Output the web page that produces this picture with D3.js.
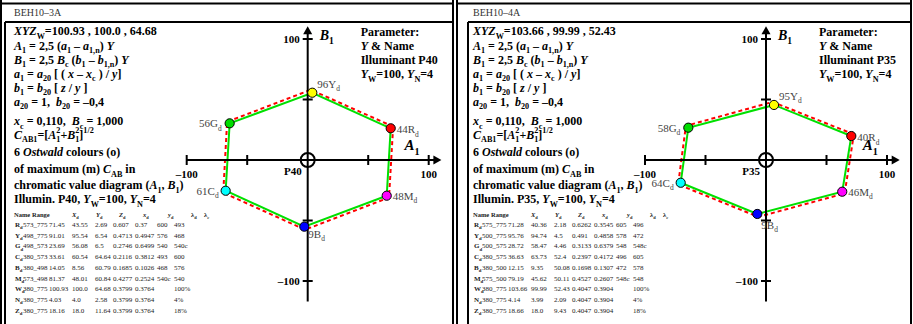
<!DOCTYPE html>
<meta charset="utf-8">
<style>
  body { margin: 0; background: #fff; }
  svg { display: block; font-family: "Liberation Serif", "Times New Roman", serif; }
  text { white-space: pre; }
</style>
<script src="https://d3js.org/d3.v7.min.js"></script>
<div id="chart"></div>
<script>

// ---- data ----
var colourNames = ["R", "Y", "G", "C", "B", "M"];
var panelIds = ["BEH10\u20133A", "BEH10\u20134A"];
var illuminants = ["P40", "P35"];
var whiteXYZ = ["100.93 , 100.0 , 64.68", "103.66 , 99.99 , 52.43"];

// (A1, B1) of the 6 Ostwald colours (green line) and the maximum colours (red dashes)
var ostwaldP40 = [[68.6, 26.2], [3.8, 55.6], [-64.5, 30.3], [-67.8, -25.4], [-2.8, -55.1], [65.3, -29.5]];
var maximumP40 = [[70.6, 27.6], [2.6, 58.0], [-66.6, 31.6], [-69.8, -27.0], [-2.2, -57.6], [67.2, -31.0]];
var ostwaldP35 = [[70.5, 19.8], [6.6, 45.5], [-64.2, 26.7], [-70.5, -18.8], [-7.2, -44.6], [63.0, -26.2]];
var maximumP35 = [[72.6, 21.2], [5.4, 48.0], [-66.2, 28.2], [-72.6, -20.2], [-6.4, -47.0], [65.0, -27.6]];

// table rows: name, range, Xd, Yd, Zd, xd, yd, lambda_d, lambda_c
var tableP40 = [
  ["R", "573_775", "71.45", "43.55", "2.69", "0.607", "0.37", "600", "493"],
  ["Y", "498_775", "91.01", "95.54", "6.54", "0.4713", "0.4947", "576", "468"],
  ["G", "498_573", "23.69", "56.08", "6.5", "0.2746", "0.6499", "540", "540c"],
  ["C", "380_573", "33.61", "60.54", "64.64", "0.2116", "0.3812", "493", "600"],
  ["B", "380_498", "14.05", "8.56", "60.79", "0.1685", "0.1026", "468", "576"],
  ["M", "573_498", "81.37", "48.01", "60.84", "0.4277", "0.2524", "540c", "540"],
  ["W", "380_775", "100.93", "100.0", "64.68", "0.3799", "0.3764", "", "100%"],
  ["N", "380_775", "4.03", "4.0", "2.58", "0.3799", "0.3764", "", "4%"],
  ["Z", "380_775", "18.16", "18.0", "11.64", "0.3799", "0.3764", "", "18%"]
];
var tableP35 = [
  ["R", "575_775", "71.28", "40.36", "2.18", "0.6262", "0.3545", "605", "496"],
  ["Y", "500_775", "95.76", "94.74", "4.5", "0.491", "0.4858", "578", "472"],
  ["G", "500_575", "28.72", "58.47", "4.46", "0.3133", "0.6379", "548", "548c"],
  ["C", "380_575", "36.63", "63.73", "52.4", "0.2397", "0.4172", "496", "605"],
  ["B", "380_500", "12.15", "9.35", "50.08", "0.1698", "0.1307", "472", "578"],
  ["M", "575_500", "79.19", "45.62", "50.11", "0.4527", "0.2607", "548c", "548"],
  ["W", "380_775", "103.66", "99.99", "52.43", "0.4047", "0.3904", "", "100%"],
  ["N", "380_775", "4.14", "3.99", "2.09", "0.4047", "0.3904", "", "4%"],
  ["Z", "380_775", "18.66", "18.0", "9.43", "0.4047", "0.3904", "", "18%"]
];
var axisTicks = [-100, -50, 50, 100];
var labelledTicks = [-100, 100];

// ---- drawing ----
var W = 913, H = 324;
var svg = d3.select("#chart").append("svg").attr("width", W).attr("height", H);

var fills = {R: "#ff0000", Y: "#ffff00", G: "#00dd00", C: "#00ffff", B: "#0000ff", M: "#ff00ff"};

// rich text: segments [text, flags]; i italic, s subscript, p superscript, k superscript stacked on previous subscript
function rich(sel, segs, size) {
  var shift = 0, prev = null;
  segs.forEach(function(s) {
    var f = s[1] || "";
    var sub = f.indexOf("s") >= 0, sup = f.indexOf("p") >= 0 || f.indexOf("k") >= 0;
    var target = sub ? size * 0.32 : (sup ? -size * 0.42 : 0);
    var t = sel.append("tspan").text(s[0]).attr("dy", target - shift);
    shift = target;
    if (sub || sup) t.attr("font-size", size * 0.68);
    if (f.indexOf("i") >= 0) t.attr("font-style", "italic");
    if (f.indexOf("k") >= 0 && prev) t.attr("dx", -prev.node().getComputedTextLength());
    prev = t;
  });
  if (shift) sel.append("tspan").text("").attr("dy", -shift);
}

function formulaLines(xyz, ill) {
  return [
    [["XYZ", "i"], ["W", "s"], ["=" + xyz]],
    [["A", "i"], ["1", "s"], [" = 2,5 ("], ["a", "i"], ["1", "s"], [" \u2013 "], ["a", "i"], ["1,n", "s"], [") "], ["Y", "i"]],
    [["B", "i"], ["1", "s"], [" = 2,5 "], ["B", "i"], ["c", "s"], [" ("], ["b", "i"], ["1", "s"], [" \u2013 "], ["b", "i"], ["1,n", "s"], [") "], ["Y", "i"]],
    [["a", "i"], ["1", "s"], [" = "], ["a", "i"], ["20", "s"], [" [ ( "], ["x", "i"], [" \u2013 "], ["x", "i"], ["c", "s"], [" ) / "], ["y", "i"], ["]"]],
    [["b", "i"], ["1", "s"], [" = "], ["b", "i"], ["20", "s"], [" [ "], ["z", "i"], [" / "], ["y", "i"], [" ]"]],
    [["a", "i"], ["20", "s"], [" = 1,  "], ["b", "i"], ["20", "s"], [" = \u20130,4"]],
    [["x", "i"], ["c", "s"], [" = 0,110,  "], ["B", "i"], ["c", "s"], [" = 1,000"]],
    [["C", "i"], ["AB1", "s"], ["=["], ["A", "i"], ["1", "s"], ["2", "k"], ["+"], ["B", "i"], ["1", "s"], ["2", "k"], ["]"], ["1/2", "p"]],
    [["6 "], ["Ostwald", "i"], [" colours (o)"]],
    [["of maximum (m) "], ["C", "i"], ["AB", "s"], [" in"]],
    [["chromatic value diagram ("], ["A", "i"], ["1", "s"], [", "], ["B", "i"], ["1", "s"], [")"]],
    [["Illumin. " + ill + ", "], ["Y", "i"], ["W", "s"], ["=100, "], ["Y", "i"], ["N", "s"], ["=4"]]
  ];
}
var lineY = [35, 49.5, 63.5, 77.5, 91.5, 105.5, 125, 138.5, 156, 173, 189, 203];

var labelOffset = {R: [6, 5, "start"], Y: [5, -5, "start"], G: [-8, 4, "end"], C: [-7, 4, "end"], B: [4, 11, "start"], M: [6, 4, "start"]};

function drawPanel(p) {
  var g = svg.append("g");
  var x0 = p.x0;

  // frame
  var fr = g.append("g").attr("stroke", "#000").attr("stroke-width", 2).attr("fill", "none");
  fr.append("line").attr("x1", x0).attr("x2", x0 + p.w).attr("y1", 3.5).attr("y2", 3.5);
  fr.append("line").attr("x1", x0 + 1).attr("x2", x0 + 1).attr("y1", 0).attr("y2", H);
  fr.append("line").attr("x1", x0 + p.inner).attr("x2", x0 + p.inner).attr("y1", 22).attr("y2", H);
  fr.append("line").attr("x1", x0 + p.inner).attr("x2", x0 + p.w).attr("y1", 22).attr("y2", 22);
  fr.append("line").attr("x1", x0 + p.w).attr("x2", x0 + p.w).attr("y1", 0).attr("y2", H);

  g.append("text").attr("x", x0 + p.tx).attr("y", 16).attr("font-size", 10).attr("fill", "#333").text(p.id);

  // formula block
  formulaLines(p.xyz, p.ill).forEach(function(segs, i) {
    var t = g.append("text").attr("x", x0 + p.tx).attr("y", lineY[i])
      .attr("font-size", 12).attr("font-weight", "bold");
    rich(t, segs, 12);
  });

  // table
  var hdr = [[["Name"]], [["Range"]], [["X", "i"], ["d", "s"]], [["Y", "i"], ["d", "s"]], [["Z", "i"], ["d", "s"]],
             [["x", "i"], ["d", "s"]], [["y", "i"], ["d", "s"]], [["\u03bb"], ["d", "s"]], [["\u03bb"], ["c", "s"]]];
  var hdrX = [0, 18, 58, 82, 105, 129, 154, 177, 190];
  hdr.forEach(function(segs, i) {
    var t = g.append("text").attr("x", x0 + p.tx + hdrX[i]).attr("y", 217)
      .attr("font-size", 6.5).attr("font-weight", "bold").attr("fill", "#222");
    rich(t, segs, 6.5);
  });
  var colX = [1, 9, 35, 58, 81, 99, 121, 143, 160];
  p.rows.forEach(function(r, j) {
    var y = 227 + j * 10.7;
    var t = g.append("text").attr("x", x0 + p.tx + colX[0]).attr("y", y)
      .attr("font-size", 7).attr("font-weight", "bold").attr("fill", "#222");
    rich(t, [[r[0]], ["d", "s"]], 7);
    r.slice(1).forEach(function(v, k) {
      g.append("text").attr("x", x0 + p.tx + colX[k + 1]).attr("y", y)
        .attr("font-size", 7).attr("fill", "#222").text(v);
    });
  });

  // chart
  var x = d3.scaleLinear().domain([-100, 100]).range([p.cx - 121, p.cx + 121]);
  var y = d3.scaleLinear().domain([-100, 100]).range([p.cy + 121, p.cy - 121]);
  var line = d3.line().x(function(d) { return x(d[0]); }).y(function(d) { return y(d[1]); }).curve(d3.curveLinearClosed);

  g.append("path").attr("d", line(p.maximum)).attr("fill", "none")
    .attr("stroke", "#ff0000").attr("stroke-width", 2).attr("stroke-dasharray", "4,3");
  g.append("path").attr("d", line(p.ostwald)).attr("fill", "none")
    .attr("stroke", "#00e000").attr("stroke-width", 2);

  var ax = g.append("g").attr("stroke", "#000").attr("stroke-width", 2);
  ax.append("line").attr("x1", x(-100)).attr("x2", x(106)).attr("y1", y(0)).attr("y2", y(0));
  ax.append("line").attr("x1", x(0)).attr("x2", x(0)).attr("y1", y(-117)).attr("y2", y(106));
  ax.selectAll(".tx").data(axisTicks).enter().append("line")
    .attr("x1", function(d) { return x(d); }).attr("x2", function(d) { return x(d); })
    .attr("y1", y(0) - 5).attr("y2", y(0) + 5);
  ax.selectAll(".ty").data(axisTicks).enter().append("line")
    .attr("y1", function(d) { return y(d); }).attr("y2", function(d) { return y(d); })
    .attr("x1", x(0) - 5).attr("x2", x(0) + 5);
  g.append("path").attr("fill", "#000")
    .attr("d", "M" + x(110.5) + "," + y(0) + "L" + (x(110.5) - 8) + "," + (y(0) - 4.5) + "L" + (x(110.5) - 8) + "," + (y(0) + 4.5) + "Z");
  g.append("path").attr("fill", "#000")
    .attr("d", "M" + x(0) + "," + y(110.5) + "L" + (x(0) - 4.5) + "," + (y(110.5) + 8) + "L" + (x(0) + 4.5) + "," + (y(110.5) + 8) + "Z");
  g.append("circle").attr("cx", x(0)).attr("cy", y(0)).attr("r", 7)
    .attr("fill", "none").attr("stroke", "#000").attr("stroke-width", 2);

  var lab = g.append("g").attr("font-size", 11).attr("font-weight", "bold");
  labelledTicks.forEach(function(d) {
    lab.append("text").attr("x", x(d)).attr("y", y(0) + 18).attr("text-anchor", "middle").text(d < 0 ? "\u2013100" : "100");
    lab.append("text").attr("x", x(0) - 8).attr("y", y(d) + 3.5).attr("text-anchor", "end").text(d < 0 ? "\u2013100" : "100");
  });
  lab.append("text").attr("x", x(0) - 6).attr("y", y(0) + 15).attr("text-anchor", "end").text(p.ill);

  var bl = g.append("text").attr("x", x(0) + 12).attr("y", y(100) + 1).attr("font-size", 14).attr("font-weight", "bold");
  rich(bl, [["B", "i"], ["1", "s"]], 14);
  var al = g.append("text").attr("x", x(80)).attr("y", y(0) - 10).attr("font-size", 15).attr("font-weight", "bold");
  rich(al, [["A", "i"], ["1", "s"]], 15);

  // parameter block
  var par = [[["Parameter:"]], [["Y", "i"], [" & Name"]], [["Illuminant " + p.ill]], [["Y", "i"], ["W", "s"], ["=100, "], ["Y", "i"], ["N", "s"], ["=4"]]];
  par.forEach(function(segs, i) {
    var t = g.append("text").attr("x", p.cx + 53).attr("y", 36 + i * 14)
      .attr("font-size", 12).attr("font-weight", "bold");
    rich(t, segs, 12);
  });

  // colour points
  g.selectAll(".pt").data(p.ostwald).enter().append("circle")
    .attr("cx", function(d) { return x(d[0]); }).attr("cy", function(d) { return y(d[1]); })
    .attr("r", 4.6).attr("stroke", "#000").attr("stroke-width", 1)
    .attr("fill", function(d, i) { return fills[colourNames[i]]; });
  p.ostwald.forEach(function(d, i) {
    var n = colourNames[i], o = labelOffset[n];
    var t = g.append("text").attr("x", x(d[0]) + o[0]).attr("y", y(d[1]) + o[1] + (n === "B" ? p.bShift : 0))
      .attr("text-anchor", o[2]).attr("font-size", 11).attr("fill", "#444");
    rich(t, [[Math.round(+p.rows[i][3]) + n], ["d", "s"]], 11);
  });
}

drawPanel({x0: 0, w: 453, inner: 5, tx: 14, cx: 307.7, cy: 160, id: panelIds[0], ill: illuminants[0],
           xyz: whiteXYZ[0], ostwald: ostwaldP40, maximum: maximumP40, rows: tableP40, bShift: 0});
drawPanel({x0: 456, w: 455, inner: 12, tx: 17, cx: 766, cy: 160, id: panelIds[1], ill: illuminants[1],
           xyz: whiteXYZ[1], ostwald: ostwaldP35, maximum: maximumP35, rows: tableP35, bShift: 4});
</script>
